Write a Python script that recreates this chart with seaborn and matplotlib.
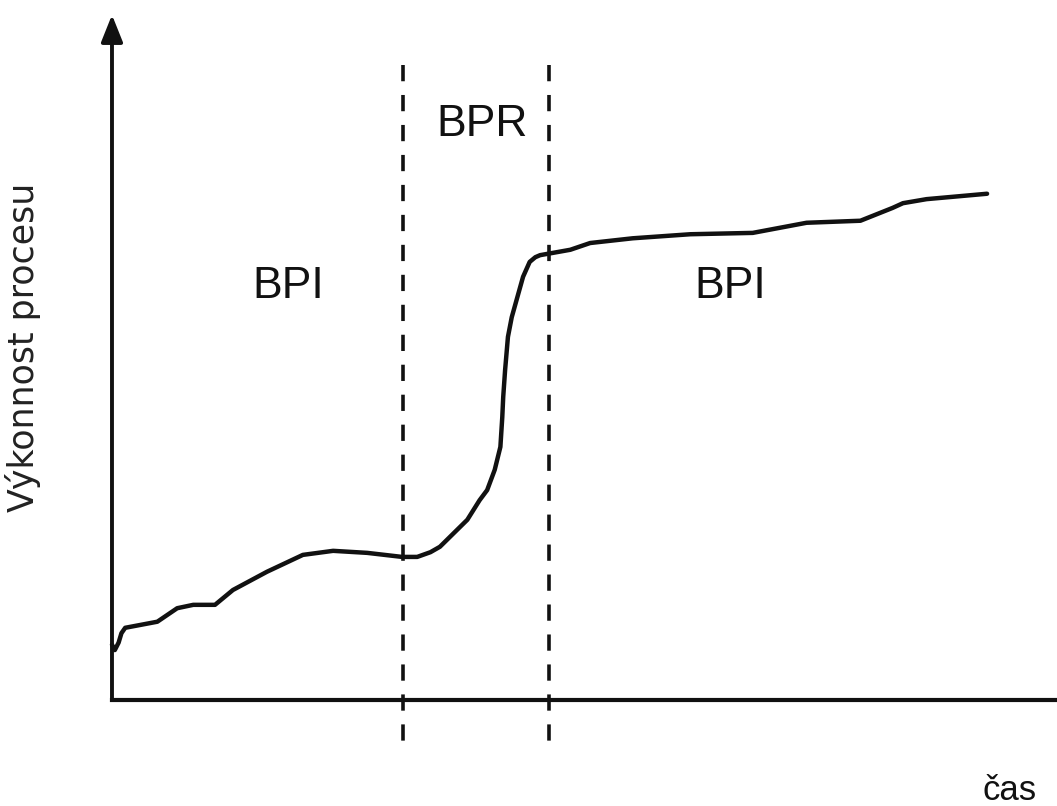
import matplotlib
matplotlib.use("Agg")
import matplotlib.pyplot as plt
import seaborn as sns
import pandas as pd

# --- data (time in % of horizontal extent, performance in % of vertical extent) ---
time = [0, 0.3, 0.7, 1.0, 1.4, 4.8, 6.9, 8.6, 10.9, 12.8, 16.4, 20.2, 23.4, 27.0,
        30.7, 32.3, 33.7, 34.7, 37.6, 38.9, 39.7, 40.5, 41.1, 41.3, 41.4, 41.6,
        41.9, 42.3, 42.9, 43.5, 44.2, 44.8, 45.3, 46.1, 48.5, 50.6, 55.1, 61.2,
        67.8, 73.5, 79.2, 82.6, 83.7, 86.2, 92.6]
performance = [8.2, 7.4, 8.5, 9.9, 10.7, 11.6, 13.6, 14.1, 14.1, 16.3, 19.0, 21.5,
               22.1, 21.8, 21.2, 21.2, 21.9, 22.7, 26.7, 29.6, 31.1, 34.1, 37.5,
               41.9, 44.9, 48.9, 53.8, 56.7, 59.7, 62.7, 64.9, 65.6, 65.9, 66.1,
               66.7, 67.7, 68.4, 69.0, 69.2, 70.7, 71.0, 72.9, 73.6, 74.2, 75.0]
phase_bounds = [30.8, 46.2]
phase_labels = ["BPI", "BPR", "BPI"]
phase_label_x = [18.7, 39.2, 65.4]
phase_label_y = [61.3, 85.2, 61.3]
y_label = "Výkonnost procesu"
x_label = "čas"

sns.set_theme(style="white")
plt.rcParams["font.family"] = ["Liberation Sans", "DejaVu Sans"]

ink = "#111111"
fig = plt.figure(figsize=(10.57, 8.06), dpi=100)
ax = fig.add_axes([0, 0, 1, 1])
ax.set_xlim(-11.85, 100)
ax.set_ylim(-15.7, 103.7)

df = pd.DataFrame({"time": time, "performance": performance})
sns.lineplot(data=df, x="time", y="performance", ax=ax, color=ink, lw=3.2,
             sort=False, estimator=None, solid_joinstyle="round",
             solid_capstyle="round")

for xb in phase_bounds:
    ax.plot([xb, xb], [94.1, -7.4], color=ink, lw=2.6, dashes=(4.5, 3.8))

# axes
for s in ["top", "right", "left"]:
    ax.spines[s].set_visible(False)
ax.spines["bottom"].set_position(("data", 0))
ax.spines["bottom"].set_bounds(0, 100)
ax.spines["bottom"].set_linewidth(3)
ax.spines["bottom"].set_color(ink)
ax.annotate("", xy=(0, 101.5), xytext=(0, 0),
            arrowprops=dict(arrowstyle="-|>,head_length=0.55,head_width=0.22",
                            lw=2.8, color=ink, mutation_scale=30,
                            shrinkA=0, shrinkB=0))
ax.set_xticks([])
ax.set_yticks([])
ax.set_xlabel("")
ax.set_ylabel("")

for lab, lx, ly in zip(phase_labels, phase_label_x, phase_label_y):
    ax.text(lx, ly, lab, ha="center", va="center", fontsize=32, color=ink)

ax.text(-9.4, 52.3, y_label, rotation=90, ha="center", va="center",
        fontsize=25, color="#222222", family=["DejaVu Sans"])
ax.text(95.0, -14.8, x_label, ha="center", va="baseline", fontsize=25, color=ink)

fig.savefig("out.png", dpi=100)
